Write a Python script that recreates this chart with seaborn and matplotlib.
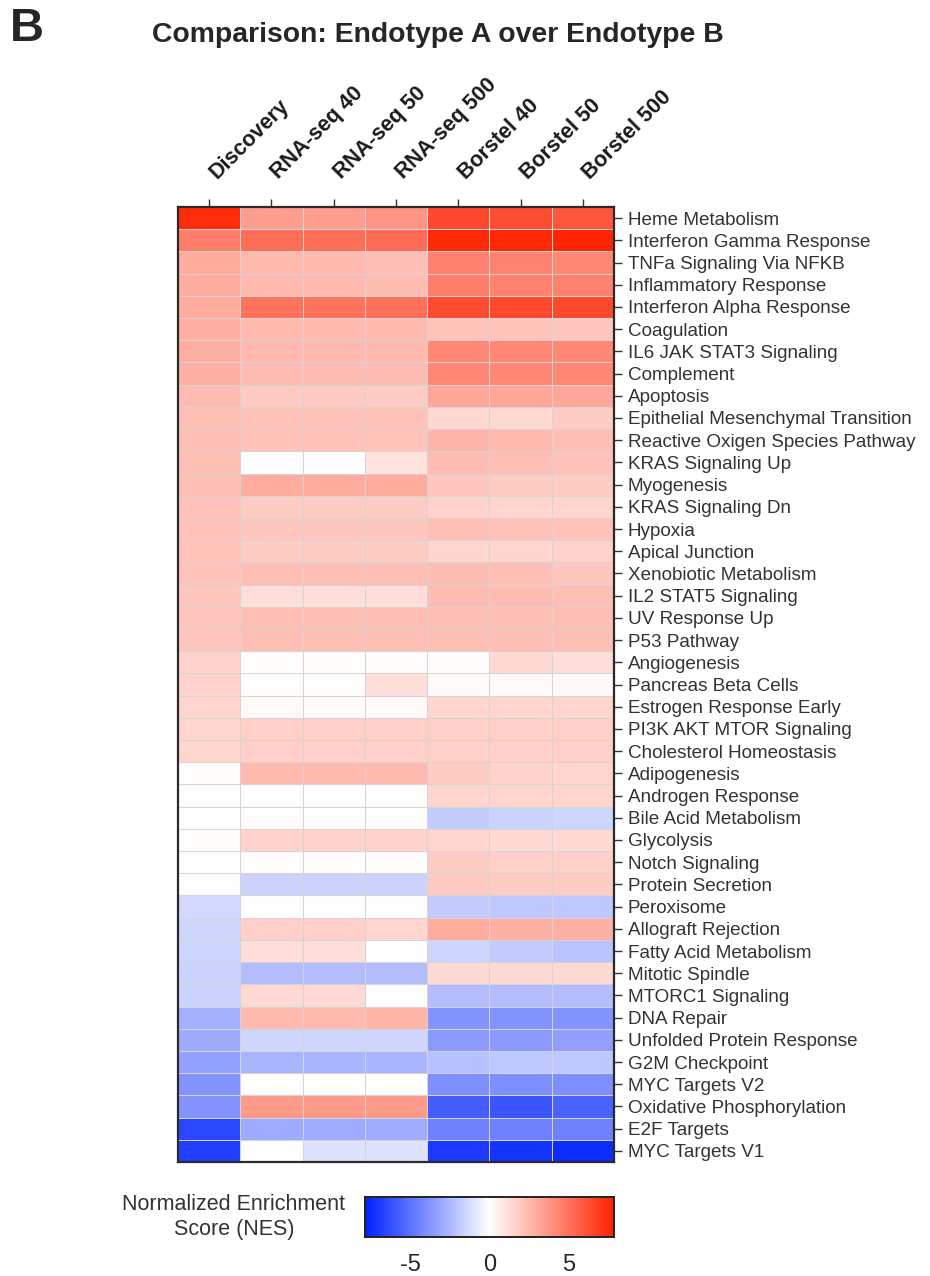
import numpy as np
import pandas as pd
import matplotlib
matplotlib.use("Agg")
import matplotlib.pyplot as plt
from matplotlib.colors import LinearSegmentedColormap
from matplotlib.transforms import ScaledTranslation
import seaborn as sns

cohorts = ["Discovery", "RNA-seq 40", "RNA-seq 50", "RNA-seq 500",
           "Borstel 40", "Borstel 50", "Borstel 500"]

pathways = [
    "Heme Metabolism", "Interferon Gamma Response", "TNFa Signaling Via NFKB",
    "Inflammatory Response", "Interferon Alpha Response", "Coagulation",
    "IL6 JAK STAT3 Signaling", "Complement", "Apoptosis",
    "Epithelial Mesenchymal Transition", "Reactive Oxigen Species Pathway",
    "KRAS Signaling Up", "Myogenesis", "KRAS Signaling Dn", "Hypoxia",
    "Apical Junction", "Xenobiotic Metabolism", "IL2 STAT5 Signaling",
    "UV Response Up", "P53 Pathway", "Angiogenesis", "Pancreas Beta Cells",
    "Estrogen Response Early", "PI3K AKT MTOR Signaling",
    "Cholesterol Homeostasis", "Adipogenesis", "Androgen Response",
    "Bile Acid Metabolism", "Glycolysis", "Notch Signaling",
    "Protein Secretion", "Peroxisome", "Allograft Rejection",
    "Fatty Acid Metabolism", "Mitotic Spindle", "MTORC1 Signaling",
    "DNA Repair", "Unfolded Protein Response", "G2M Checkpoint",
    "MYC Targets V2", "Oxidative Phosphorylation", "E2F Targets",
    "MYC Targets V1",
]

# Normalized enrichment scores, one list per cohort (rows follow `pathways`)
nes_discovery = [7.5, 4.6, 3.0, 3.0, 3.0, 2.9, 2.9, 2.8, 2.4, 2.3, 2.3, 2.3,
                 2.3, 2.2, 2.2, 2.1, 2.1, 2.0, 2.0, 2.0, 1.6, 1.6, 1.5, 1.5,
                 1.5, 0.1, 0.1, 0.1, 0.1, 0.1, 0.1, -1.4, -1.5, -1.5, -1.6,
                 -1.6, -2.8, -3.0, -3.3, -3.8, -3.8, -6.5, -6.8]
nes_rnaseq_40 = [3.5, 5.2, 2.5, 2.5, 5.0, 2.5, 2.5, 2.4, 1.9, 2.2, 2.2, 0.0,
                 3.0, 1.8, 2.0, 1.8, 2.3, 1.2, 2.3, 2.3, 0.1, 0.1, 0.2, 1.7,
                 1.7, 2.5, 0.1, 0.1, 1.6, 0.1, -1.6, 0.0, 1.7, 1.2, -2.4,
                 1.3, 2.5, -1.5, -2.6, 0.0, 3.6, -3.0, 0.0]
nes_rnaseq_50 = [3.5, 5.2, 2.5, 2.5, 5.0, 2.5, 2.5, 2.4, 1.9, 2.2, 2.2, 0.0,
                 3.0, 1.8, 2.0, 1.8, 2.3, 1.2, 2.3, 2.3, 0.1, 0.1, 0.2, 1.7,
                 1.7, 2.5, 0.1, 0.1, 1.6, 0.1, -1.6, 0.0, 1.7, 1.2, -2.4,
                 1.3, 2.5, -1.5, -2.6, 0.0, 3.6, -3.0, -1.0]
nes_rnaseq_500 = [3.8, 5.3, 2.3, 2.4, 5.1, 2.5, 2.5, 2.4, 1.8, 2.2, 2.1, 1.0,
                  3.0, 1.8, 2.0, 1.8, 2.3, 1.2, 2.3, 2.3, 0.1, 1.2, 0.2, 1.7,
                  1.7, 2.5, 0.1, 0.1, 1.6, 0.1, -1.6, 0.0, 1.5, 0.0, -2.4,
                  0.0, 2.7, -1.5, -2.6, 0.0, 3.6, -3.0, -1.0]
nes_borstel_40 = [6.5, 7.6, 4.5, 4.6, 6.4, 2.1, 4.3, 4.3, 3.2, 1.4, 2.6, 2.4,
                  2.0, 1.6, 2.3, 1.5, 2.4, 2.4, 2.3, 2.3, 0.1, 0.2, 1.5, 1.7,
                  1.7, 1.8, 1.5, -1.8, 1.5, 1.8, 1.9, -1.8, 3.0, -1.5, 1.3,
                  -2.4, -3.8, -3.6, -2.2, -4.0, -5.8, -4.5, -7.0]
nes_borstel_50 = [6.3, 7.6, 4.4, 4.5, 6.5, 2.1, 4.3, 4.3, 3.2, 1.4, 2.5, 2.3,
                  1.8, 1.5, 2.2, 1.5, 2.3, 2.4, 2.3, 2.3, 1.3, 0.2, 1.5, 1.7,
                  1.7, 1.6, 1.5, -1.6, 1.3, 1.7, 1.8, -2.0, 2.8, -1.8, 1.3,
                  -2.4, -3.8, -3.6, -2.0, -4.0, -6.0, -4.5, -7.2]
nes_borstel_500 = [6.0, 7.8, 4.3, 4.5, 6.5, 2.0, 4.2, 4.3, 3.1, 1.8, 2.3, 2.2,
                   1.8, 1.5, 2.1, 1.6, 2.0, 2.3, 2.3, 2.3, 1.2, 0.2, 1.5, 1.7,
                   1.7, 1.5, 1.5, -1.5, 1.3, 1.7, 1.8, -2.0, 2.8, -2.1, 1.3,
                   -2.4, -3.8, -3.4, -2.0, -4.0, -5.6, -4.5, -7.5]

cbar_ticks = [-5, 0, 5]

nes = pd.DataFrame(
    {c: v for c, v in zip(cohorts, [nes_discovery, nes_rnaseq_40, nes_rnaseq_50,
                                     nes_rnaseq_500, nes_borstel_40,
                                     nes_borstel_50, nes_borstel_500])},
    index=pathways,
)

sns.set_style("white")
plt.rcParams["font.family"] = ["Liberation Sans", "DejaVu Sans"]
plt.rcParams["axes.unicode_minus"] = False

cmap = LinearSegmentedColormap.from_list("nes", ["#0022ff", "#ffffff", "#ff2200"])

W, H = 930, 1276
fig = plt.figure(figsize=(W / 100, H / 100), dpi=100)


def fig_rect(x0, y0, x1, y1):
    return [x0 / W, 1 - y1 / H, (x1 - x0) / W, (y1 - y0) / H]


ax = fig.add_axes(fig_rect(178, 207, 614, 1162))
cax = fig.add_axes(fig_rect(365, 1197, 614, 1237))

sns.heatmap(nes, ax=ax, cmap=cmap, vmin=-7.9, vmax=7.9, center=0,
            linewidths=0.6, linecolor="#d4d4d4",
            cbar_ax=cax, cbar_kws={"orientation": "horizontal", "ticks": cbar_ticks})

# Row labels on the right, column labels across the top
ax.yaxis.tick_right()
ax.xaxis.tick_top()
ax.set_yticklabels(pathways, rotation=0, fontsize=13.6, color="#333333")
ax.set_xticklabels(cohorts, rotation=45, ha="left", va="bottom",
                   rotation_mode="anchor", fontsize=15.5, fontweight="bold",
                   color="#1a1a1a")
ax.tick_params(axis="y", which="both", right=True, left=False, length=6,
               width=1, color="#333333", pad=4)
ax.tick_params(axis="x", which="both", top=True, bottom=False, length=6,
               width=1, color="#333333", pad=9)
shift = ScaledTranslation(11 / 100, 3 / 100, fig.dpi_scale_trans)
for lbl in ax.get_xticklabels():
    lbl.set_transform(lbl.get_transform() + shift)
ax.set_xlabel("")
ax.set_ylabel("")
for side in ["top", "bottom", "left", "right"]:
    ax.spines[side].set_visible(True)
    ax.spines[side].set_linewidth(1.6)
    ax.spines[side].set_color("#2a2a2a")

# Colour bar styling
cax.tick_params(axis="x", direction="in", top=True, bottom=True, length=5,
                width=1, color="#222222", labelsize=17, pad=12)
for side in ["top", "bottom", "left", "right"]:
    cax.spines[side].set_visible(True)
    cax.spines[side].set_linewidth(1.4)
    cax.spines[side].set_color("#222222")
cax.set_xlabel("")

fig.text(234 / W, 1 - 1217 / H, "Normalized Enrichment\nScore (NES)",
         ha="center", va="center", fontsize=15.5, color="#333333", linespacing=1.25)

fig.text(10 / W, 1 - 29 / H, "B", ha="left", va="center", fontsize=34,
         fontweight="bold")
fig.text(152 / W, 1 - 35 / H, "Comparison: Endotype A over Endotype B",
         ha="left", va="center", fontsize=20.4, fontweight="bold")

fig.savefig("out.png", dpi=100)
